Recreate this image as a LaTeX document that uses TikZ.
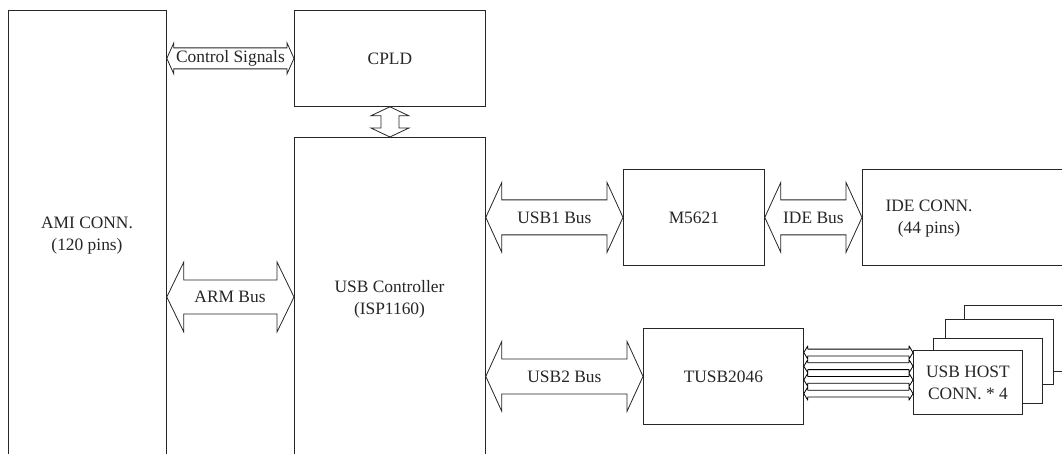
\documentclass[tikz,border=0pt]{standalone}
\usepackage{fontspec}
\setmainfont{Liberation Serif}
\usetikzlibrary{calc}
\newcommand\hbus[6]{%
  \draw[#6] (#1) -- ($(#1)+(#5,-#4)$) -- ($(#1)+(#5,-#3)$) -- ($(#2)+(-#5,-#3)$)
    -- ($(#2)+(-#5,-#4)$) -- (#2) -- ($(#2)+(-#5,#4)$) -- ($(#2)+(-#5,#3)$)
    -- ($(#1)+(#5,#3)$) -- ($(#1)+(#5,#4)$) -- cycle;}
\newcommand\vbus[6]{%
  \draw[#6] (#1) -- ($(#1)+(#4,#5)$) -- ($(#1)+(#3,#5)$) -- ($(#2)+(#3,-#5)$)
    -- ($(#2)+(#4,-#5)$) -- (#2) -- ($(#2)+(-#4,-#5)$) -- ($(#2)+(-#3,-#5)$)
    -- ($(#1)+(-#3,#5)$) -- ($(#1)+(-#4,#5)$) -- cycle;}
\tikzset{
  blk/.style={draw=black!85, line width=0.8pt, fill=white, inner sep=0pt},
  lbl/.style={align=center, inner sep=0pt, text=black!85,
    font=\fontsize{17.4}{22}\selectfont},
  busline/.style={draw=black!85, line width=0.8pt, fill=white, line join=miter},
  thinbus/.style={draw=black, line width=0.8pt, fill=white, line join=round},
}
\begin{document}
\begin{tikzpicture}[x=1pt,y=-1pt]
\useasboundingbox (0,0) rectangle (1062,454);
\clip (0,0) rectangle (1062,454);
% blocks
\node[blk, anchor=north west, minimum width=158.5pt, minimum height=470pt] (ami) at (7.5,10) {};
\node[lbl] (amit) at (87,236) {AMI CONN.\\(120 pins)};
\node[blk, anchor=north west, minimum width=191pt, minimum height=96pt] (cpld) at (294,10) {};
\node[lbl] (cpldt) at (cpld.center) {CPLD};
\node[blk, anchor=north west, minimum width=191pt, minimum height=340pt] (usbc) at (294,137) {};
\node[lbl] (usbct) at (389.5,299) {USB Controller\\(ISP1160)};
\node[blk, anchor=north west, minimum width=141pt, minimum height=96pt] (m5621) at (623,169) {};
\node[lbl] (m5621t) at (m5621.center) {M5621};
\node[blk, anchor=north west, minimum width=230pt, minimum height=96pt] (ide) at (862,169) {};
\node[lbl] (idet) at (929,219) {IDE CONN.\\(44 pins)};
\node[blk, anchor=north west, minimum width=160pt, minimum height=96pt] (tusb) at (643,328) {};
\node[lbl] (tusbt) at (tusb.center) {TUSB2046};
% stacked host connectors (back to front)
\node[blk, anchor=north west, minimum width=130pt, minimum height=66pt] (host4) at (964,305) {};
\node[blk, anchor=north west, minimum width=108pt, minimum height=65pt] (host3) at (945,319) {};
\node[blk, anchor=north west, minimum width=109pt, minimum height=65pt] (host2) at (933,338) {};
\node[blk, anchor=north west, minimum width=109pt, minimum height=64pt] (host) at (913,350) {};
\node[lbl] (hostt) at (host.center) {USB HOST\\CONN. * 4};
% bus arrows
\coordinate (csL) at (ami.east |- cpld.west);
\coordinate (csR) at (cpld.west);
\hbus{csL}{csR}{10.5}{15.5}{7}{busline}
\node[lbl] (cst) at ($(csL)!0.5!(csR)$) {Control Signals};
\coordinate (vT) at (cpld.south);
\coordinate (vB) at (usbc.north);
\vbus{vT}{vB}{9}{19}{9}{busline}
\coordinate (armmid) at (230,297);
\coordinate (armL) at (ami.east |- armmid);
\coordinate (armR) at (usbc.west |- armmid);
\hbus{armL}{armR}{17}{35}{17}{busline}
\node[lbl] (armt) at (armmid) {ARM Bus};
\coordinate (u1L) at (usbc.east |- m5621.west);
\coordinate (u1R) at (m5621.west);
\hbus{u1L}{u1R}{17.5}{35}{16}{busline}
\node[lbl] (u1t) at ($(u1L)!0.5!(u1R)$) {USB1 Bus};
\coordinate (ideL) at (m5621.east);
\coordinate (ideR) at (ide.west);
\hbus{ideL}{ideR}{17.5}{35}{16}{busline}
\node[lbl] (idebt) at ($(ideL)!0.5!(ideR)$) {IDE Bus};
\coordinate (u2L) at (usbc.east |- tusb.west);
\coordinate (u2R) at (tusb.west);
\hbus{u2L}{u2R}{17.5}{35}{16}{busline}
\node[lbl] (u2t) at ($(u2L)!0.5!(u2R)$) {USB2 Bus};
% four port links
\foreach \i/\yy in {1/352.5,2/366.2,3/379.9,4/393.6}{
  \coordinate (pL\i) at (tusb.east |- 0,\yy);
  \coordinate (pR\i) at (host.west |- 0,\yy);
  \hbus{pL\i}{pR\i}{3.4}{6.6}{4}{thinbus}
}
\end{tikzpicture}
\end{document}
